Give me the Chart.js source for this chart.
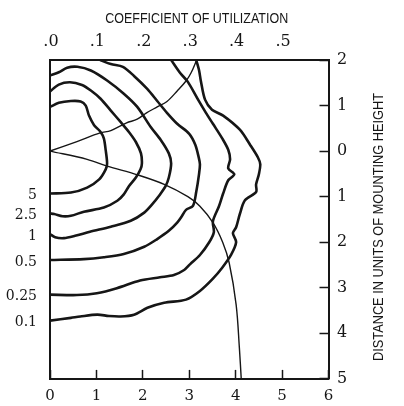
<!DOCTYPE html>
<html><head><meta charset="utf-8">
<script src="https://cdn.jsdelivr.net/npm/chart.js@4"></script>
<style>html,body{margin:0;padding:0;background:#fff}canvas{display:block}</style>
</head><body>
<canvas id="c" width="404" height="406"></canvas>
<script>
// Isofootcandle levels (labels on the left axis)
const isoLevels = ['5', '2.5', '1', '0.5', '0.25', '0.1'];
// Isofootcandle curves: [transverse distance, longitudinal distance] in mounting heights
const iso5 = [[0,-0.97],[0.19,-1.06],[0.45,-1.10],[0.66,-1.09],[0.77,-1.00],[0.84,-0.78],[0.95,-0.57],[1.09,-0.42],[1.16,-0.28],[1.20,-0.02],[1.23,0.27],[1.20,0.40],[1.06,0.62],[0.80,0.80],[0.45,0.91],[0,0.93]];
const iso2_5 = [[0,-1.31],[0.19,-1.46],[0.43,-1.51],[0.69,-1.45],[0.88,-1.33],[1.09,-1.15],[1.31,-0.89],[1.52,-0.64],[1.70,-0.42],[1.85,-0.20],[1.96,0.05],[1.98,0.27],[1.95,0.40],[1.85,0.58],[1.70,0.77],[1.59,0.95],[1.45,1.09],[1.16,1.24],[0.73,1.33],[0.45,1.42],[0.27,1.43],[0.09,1.38],[0,1.37]];
const iso1 = [[0,-1.66],[0.19,-1.73],[0.37,-1.83],[0.59,-1.85],[0.88,-1.77],[1.23,-1.55],[1.59,-1.26],[1.88,-0.97],[2.17,-0.53],[2.39,-0.24],[2.56,0.05],[2.61,0.27],[2.56,0.58],[2.49,0.77],[2.35,0.98],[2.20,1.17],[2.03,1.35],[1.74,1.53],[1.31,1.66],[0.86,1.77],[0.54,1.86],[0.30,1.91],[0.11,1.89],[0,1.82]];
const iso0_5 = [[1.08,-2.0],[1.31,-1.91],[1.57,-1.85],[1.81,-1.65],[2.09,-1.37],[2.31,-1.10],[2.52,-0.84],[2.74,-0.60],[3.00,-0.38],[3.13,-0.14],[3.20,0.12],[3.23,0.29],[3.21,0.51],[3.15,0.90],[3.08,1.20],[2.93,1.29],[2.84,1.43],[2.74,1.57],[2.56,1.75],[2.31,1.93],[2.03,2.10],[1.59,2.26],[1.16,2.33],[0.73,2.37],[0,2.39]];
const iso0_25 = [[2.61,-2.0],[2.80,-1.72],[2.97,-1.52],[3.19,-1.13],[3.36,-0.84],[3.51,-0.60],[3.71,-0.28],[3.84,-0.03],[3.88,0.18],[3.84,0.38],[3.97,0.51],[3.84,0.64],[3.73,0.93],[3.64,1.21],[3.51,1.54],[3.53,1.78],[3.43,2.00],[3.23,2.28],[3.02,2.48],[2.89,2.61],[2.67,2.72],[2.37,2.77],[1.94,2.84],[1.44,3.01],[1.01,3.12],[0.58,3.16],[0,3.15]];
const iso0_1 = [[3.15,-2.0],[3.21,-1.78],[3.25,-1.54],[3.34,-1.13],[3.49,-0.91],[3.73,-0.78],[4.09,-0.47],[4.31,-0.14],[4.48,0.14],[4.53,0.29],[4.50,0.51],[4.44,0.73],[4.44,0.90],[4.20,1.08],[4.09,1.38],[4.01,1.67],[3.94,1.80],[4.01,2.00],[3.90,2.28],[3.71,2.56],[3.51,2.80],[3.23,3.07],[2.93,3.26],[2.46,3.33],[2.10,3.44],[1.81,3.59],[1.52,3.63],[1.27,3.62],[1.02,3.59],[0.65,3.63],[0.45,3.66],[0,3.72]];
// Coefficient of utilization curves (house side / street side)
const cuHouse = [[0,0],[0.58,-0.21],[1.08,-0.40],[1.31,-0.45],[1.65,-0.62],[1.88,-0.70],[2.08,-0.84],[2.31,-0.97],[2.52,-1.09],[2.74,-1.32],[2.93,-1.54],[3.04,-1.72],[3.16,-2.0]];
const cuStreet = [[0,0],[0.80,0.18],[1.23,0.33],[1.88,0.52],[2.46,0.73],[2.97,1.00],[3.23,1.21],[3.51,1.57],[3.72,2.00],[3.86,2.45],[4.01,3.37],[4.08,4.32],[4.12,5.0]];
// Tick labels
const cuTickLabels = ['.0', '.1', '.2', '.3', '.4', '.5'];
const cuTitle = 'COEFFICIENT OF UTILIZATION';
const distTitle = 'DISTANCE IN UNITS OF MOUNTING HEIGHT';

const INK = '#161616';
const isoCurves = [iso5, iso2_5, iso1, iso0_5, iso0_25, iso0_1];

const datasets = isoCurves.map((c, i) => ({
  label: isoLevels[i], data: c, showLine: true, borderColor: INK, borderWidth: 2.6,
  pointRadius: 0, tension: 0.3, fill: false, xAxisID: 'x', yAxisID: 'y'
}));
[cuHouse, cuStreet].forEach((c, i) => datasets.push({
  label: i ? 'street' : 'house', data: c, showLine: true, borderColor: INK, borderWidth: 1.4,
  pointRadius: 0, tension: 0.35, fill: false, xAxisID: 'x', yAxisID: 'y'
}));

function fitText(c, text, x, y, width, rot) {
  c.save();
  c.translate(x, y);
  if (rot) c.rotate(rot);
  const w = c.measureText(text).width;
  c.scale(width / w, 1);
  c.fillText(text, 0, 0);
  c.restore();
}
const titlePlugin = {
  id: 'titles',
  afterDraw(chart) {
    const c = chart.ctx;
    c.save();
    c.fillStyle = INK;
    c.textAlign = 'center';
    c.textBaseline = 'middle';
    c.font = '15px "Liberation Sans Narrow", "Liberation Sans", sans-serif';
    fitText(c, cuTitle, 196.7, 19, 183, 0);
    c.font = '15px "Liberation Sans Narrow", "Liberation Sans", sans-serif';
    fitText(c, distTitle, 379, 227, 268, -Math.PI / 2);
    c.restore();
  }
};

const serif = 'DejaVu Serif';
new Chart(document.getElementById('c'), {
  type: 'scatter',
  data: { datasets },
  options: {
    responsive: false, animation: false, devicePixelRatio: 1,
    layout: { padding: 0 },
    plugins: { legend: { display: false }, tooltip: { enabled: false } },
    scales: {
      x: {
        type: 'linear', position: 'bottom', min: 0, max: 6, display: true,
        afterFit(s) { s.height = 25.5; },
        ticks: { stepSize: 1, padding: 17.5, autoSkip: false, maxRotation: 0, color: INK, font: { family: serif, size: 15 } },
        grid: { display: true, drawOnChartArea: false, drawTicks: true, tickLength: -9, tickWidth: 1.5, tickColor: INK },
        border: { display: true, color: INK, width: 2 }
      },
      x2: {
        type: 'linear', position: 'top', min: 0, max: 6, display: true,
        afterFit(s) { s.height = 60; },
        ticks: { stepSize: 1, padding: 9, labelOffset: 1, autoSkip: false, maxRotation: 0, color: INK, font: { family: serif, size: 16 },
          callback: (v) => cuTickLabels[v] ?? '' },
        grid: { display: false, drawTicks: false },
        border: { display: true, color: INK, width: 2 }
      },
      y: {
        type: 'linear', position: 'right', min: -2, max: 5, reverse: true, display: true,
        afterFit(s) { s.width = 75.5; },
        ticks: { stepSize: 1, padding: 17.5, autoSkip: false, color: INK, font: { family: serif, size: 16 },
          callback: (v) => String(Math.abs(v)) },
        grid: { display: true, drawOnChartArea: false, drawTicks: true, tickLength: -9, tickWidth: 1.5, tickColor: INK },
        border: { display: true, color: INK, width: 2 }
      },
      y2: {
        type: 'linear', position: 'left', min: -2, max: 5, reverse: true, display: true,
        afterFit(s) { s.width = 50; },
        afterBuildTicks(s) { s.ticks = isoCurves.map(c => ({ value: c[c.length - 1][1] })); },
        ticks: { padding: 13, labelOffset: 2, autoSkip: false, color: INK, font: { family: serif, size: 14 },
          callback: (v, i) => isoLevels[i] },
        grid: { display: false, drawTicks: false },
        border: { display: true, color: INK, width: 2 }
      }
    }
  },
  plugins: [titlePlugin]
});
</script>
</body></html>
